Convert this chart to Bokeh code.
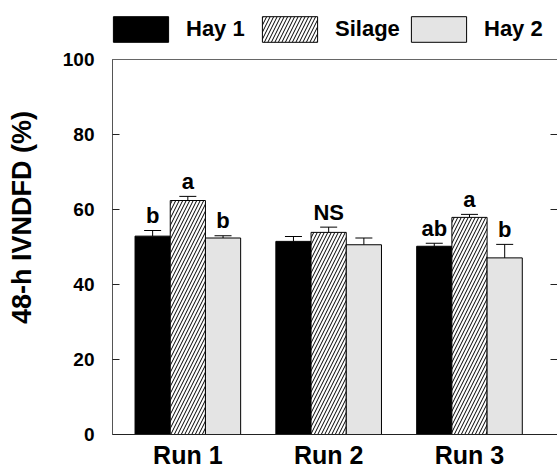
from bokeh.plotting import figure
from bokeh.models import (Range1d, LinearAxis, FixedTicker, Legend, LegendItem,
                          Whisker, ColumnDataSource, TeeHead, Span)
from bokeh.core.properties import value
from bokeh.embed import file_html
from bokeh.resources import INLINE

# ---- data ----
runs = ["Run 1", "Run 2", "Run 3"]
series_names = ["Hay 1", "Silage", "Hay 2"]
hay1 = [52.9, 51.5, 50.2]
hay1_se = [1.5, 1.3, 0.8]
silage = [62.4, 53.9, 57.9]
silage_se = [1.1, 1.4, 0.8]
hay2 = [52.4, 50.6, 47.1]
hay2_se = [0.6, 1.8, 3.6]
hay1_letters = ["b", "", "ab"]
silage_letters = ["a", "NS", "a"]
hay2_letters = ["b", "", "b"]
y_ticks = [0, 20, 40, 60, 80, 100]

FONT = "Liberation Sans"
W, H = 557, 476
BOTTOM = 42
Y_MAX = 100
PX_PER_UNIT = 3.75
frame_h = H - BOTTOM
y_top = frame_h / PX_PER_UNIT  # extra room above 100 for the legend

p = figure(width=W, height=H, output_backend="svg", toolbar_location=None,
           x_range=Range1d(0.465, 3.625), y_range=Range1d(0, y_top),
           min_border_left=112, min_border_right=0, min_border_top=0,
           min_border_bottom=BOTTOM, x_axis_location=None, y_axis_location=None)
p.outline_line_color = None
p.grid.visible = False
p.background_fill_color = "white"
p.border_fill_color = "white"

# axes
left = LinearAxis(ticker=FixedTicker(ticks=y_ticks), bounds=(0, Y_MAX))
left.axis_label = "48-h IVNDFD (%)"
left.axis_label_text_font = FONT
left.axis_label_text_font_style = "bold"
left.axis_label_text_font_size = "27px"
left.axis_label_text_color = "black"
left.axis_label_standoff = 23
left.major_label_text_font = FONT
left.major_label_text_font_style = "bold"
left.major_label_text_font_size = "19px"
left.major_label_text_color = "black"
left.major_label_standoff = 18
left.major_tick_in = 7
left.major_tick_out = 0
left.minor_tick_line_color = None
left.axis_line_color = "#555555"
left.major_tick_line_color = "#222222"
p.add_layout(left, "left")

bottom = LinearAxis(ticker=FixedTicker(ticks=[1, 2, 3]),
                    major_label_overrides={i + 1: r for i, r in enumerate(runs)})
bottom.major_label_text_font = FONT
bottom.major_label_text_font_style = "bold"
bottom.major_label_text_font_size = "25px"
bottom.major_label_text_color = "black"
bottom.major_label_standoff = 6
bottom.major_tick_in = 0
bottom.major_tick_out = 0
bottom.major_tick_line_color = None
bottom.minor_tick_line_color = None
bottom.axis_line_color = "#222222"
p.add_layout(bottom, "below")

right = LinearAxis(ticker=FixedTicker(ticks=y_ticks), bounds=(0, Y_MAX),
                   major_label_overrides={t: "" for t in y_ticks})
right.major_tick_in = 7
right.major_tick_out = 0
right.minor_tick_line_color = None
right.axis_line_color = None
right.major_label_standoff = 0
right.major_tick_line_color = "#222222"
p.add_layout(right, "right")

# top border of the plot box
p.add_layout(Span(location=Y_MAX, dimension="width", line_color="#666666", line_width=1))

# bars
bw = 0.25
offsets = [-0.25, 0.0, 0.25]
styles = [
    dict(fill_color="black"),
    dict(fill_color="white", hatch_pattern="/", hatch_color="black", hatch_scale=7, hatch_weight=1),
    dict(fill_color="#e4e4e4"),
]
means = [hay1, silage, hay2]
ses = [hay1_se, silage_se, hay2_se]
letters = [hay1_letters, silage_letters, hay2_letters]

items = []
for name, m, s, lt, off, st in zip(series_names, means, ses, letters, offsets, styles):
    xs = [i + 1 + off for i in range(len(runs))]
    tops = [a + b for a, b in zip(m, s)]
    src = ColumnDataSource(dict(x=xs, top=m, upper=tops, lab=lt))
    r = p.vbar(x="x", top="top", width=bw, bottom=0, source=src,
               line_color="black", line_width=1, **st)
    items.append(LegendItem(label=name, renderers=[r]))
    wh = Whisker(base="x", lower="top", upper="upper", source=src, dimension="height",
                 line_color="black", line_width=1, lower_head=None,
                 upper_head=TeeHead(size=17, line_color="black", line_width=1))
    p.add_layout(wh)
    p.text(x="x", y="upper", text="lab", source=src, text_align="center",
           text_baseline="alphabetic", y_offset=-15, text_font=value(FONT),
           text_font_style="bold", text_font_size="22px", text_color="black")

legend = Legend(items=items, orientation="horizontal", location=(-6, frame_h - 45),
                glyph_width=69, glyph_height=32, label_standoff=11, label_width=69,
                spacing=0, padding=0, margin=0, border_line_color=None,
                background_fill_alpha=0, label_text_font=FONT,
                label_text_font_style="bold", label_text_font_size="22px",
                label_text_color="black")
p.add_layout(legend, "center")

open("out.html", "w").write(file_html(p, INLINE))
